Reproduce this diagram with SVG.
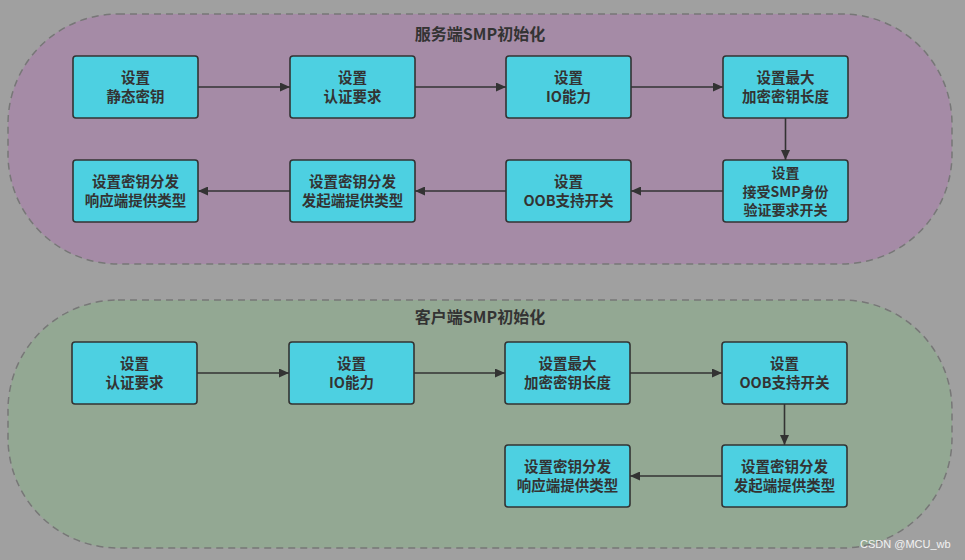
<svg xmlns="http://www.w3.org/2000/svg" width="965" height="560" viewBox="0 0 965 560">
<style>
.bg{fill:#a0a0a0}
.cont{stroke:#777;stroke-width:1.5;stroke-dasharray:7 5}
.node rect{fill:#4dd0e1;stroke:#333;stroke-width:1.6}
.node text{font-family:"Noto Sans CJK SC","Liberation Sans",sans-serif;font-weight:bold;font-size:14.5px;fill:#333;text-anchor:middle}
.node text.sm{font-size:14px}
.title{font-family:"Noto Sans CJK SC","Liberation Sans",sans-serif;font-weight:bold;font-size:16px;fill:#333;text-anchor:middle}
.edge{stroke:#333;stroke-width:1.6;fill:none;marker-end:url(#ah)}
.wm{font-family:"Liberation Sans",sans-serif;font-size:11px;fill:#f2f2f2}
</style>
<defs>
<marker id="ah" viewBox="0 0 10 10" refX="10" refY="5" markerWidth="10" markerHeight="9" markerUnits="userSpaceOnUse" orient="auto" preserveAspectRatio="none">
<path d="M0,0 L10,5 L0,10 z" fill="#333"/>
</marker>
</defs>
<rect class="bg" x="0" y="0" width="965" height="560"/>
<g id="server">
<rect class="cont" x="8" y="14" width="944" height="250" rx="110" ry="110" fill="#a58ba6"/>
<text class="title" x="480" y="40">服务端SMP初始化</text>
</g>
<g id="client">
<rect class="cont" x="8" y="300" width="944" height="248" rx="110" ry="110" fill="#93a893"/>
<text class="title" x="480" y="323">客户端SMP初始化</text>
</g>
<g id="connectors">
<line class="edge" x1="198" y1="87" x2="290" y2="87"/>
<line class="edge" x1="415" y1="87" x2="506" y2="87"/>
<line class="edge" x1="631" y1="87" x2="723" y2="87"/>
<line class="edge" x1="785.5" y1="118" x2="785.5" y2="160"/>
<line class="edge" x1="723" y1="191" x2="631" y2="191"/>
<line class="edge" x1="506" y1="191" x2="415" y2="191"/>
<line class="edge" x1="290" y1="191" x2="198" y2="191"/>
<line class="edge" x1="197" y1="373" x2="289" y2="373"/>
<line class="edge" x1="414" y1="373" x2="505" y2="373"/>
<line class="edge" x1="630" y1="373" x2="722" y2="373"/>
<line class="edge" x1="784.5" y1="404" x2="784.5" y2="445"/>
<line class="edge" x1="722" y1="476" x2="630" y2="476"/>
</g>
<g id="s1" class="node"><rect x="73" y="56" width="125" height="62" rx="3"/><text x="135.5" y="83">设置</text><text x="135.5" y="102">静态密钥</text></g>
<g id="s2" class="node"><rect x="290" y="56" width="125" height="62" rx="3"/><text x="352.5" y="83">设置</text><text x="352.5" y="102">认证要求</text></g>
<g id="s3" class="node"><rect x="506" y="56" width="125" height="62" rx="3"/><text x="568.5" y="83">设置</text><text x="568.5" y="102">IO能力</text></g>
<g id="s4" class="node"><rect x="723" y="56" width="125" height="62" rx="3"/><text x="785.5" y="83">设置最大</text><text x="785.5" y="102">加密密钥长度</text></g>
<g id="s5" class="node"><rect x="723" y="160" width="125" height="62" rx="3"/><text class="sm" x="785.5" y="178">设置</text><text class="sm" x="785.5" y="196.5">接受SMP身份</text><text class="sm" x="785.5" y="215">验证要求开关</text></g>
<g id="s6" class="node"><rect x="506" y="160" width="125" height="62" rx="3"/><text x="568.5" y="187">设置</text><text x="568.5" y="206">OOB支持开关</text></g>
<g id="s7" class="node"><rect x="290" y="160" width="125" height="62" rx="3"/><text x="352.5" y="187">设置密钥分发</text><text x="352.5" y="206">发起端提供类型</text></g>
<g id="s8" class="node"><rect x="73" y="160" width="125" height="62" rx="3"/><text x="135.5" y="187">设置密钥分发</text><text x="135.5" y="206">响应端提供类型</text></g>
<g id="c1" class="node"><rect x="72" y="342" width="125" height="62" rx="3"/><text x="134.5" y="369">设置</text><text x="134.5" y="388">认证要求</text></g>
<g id="c2" class="node"><rect x="289" y="342" width="125" height="62" rx="3"/><text x="351.5" y="369">设置</text><text x="351.5" y="388">IO能力</text></g>
<g id="c3" class="node"><rect x="505" y="342" width="125" height="62" rx="3"/><text x="567.5" y="369">设置最大</text><text x="567.5" y="388">加密密钥长度</text></g>
<g id="c4" class="node"><rect x="722" y="342" width="125" height="62" rx="3"/><text x="784.5" y="369">设置</text><text x="784.5" y="388">OOB支持开关</text></g>
<g id="c5" class="node"><rect x="722" y="445" width="125" height="62" rx="3"/><text x="784.5" y="472">设置密钥分发</text><text x="784.5" y="491">发起端提供类型</text></g>
<g id="c6" class="node"><rect x="505" y="445" width="125" height="62" rx="3"/><text x="567.5" y="472">设置密钥分发</text><text x="567.5" y="491">响应端提供类型</text></g>
<text class="wm" x="860" y="548">CSDN @MCU_wb</text>
</svg>
